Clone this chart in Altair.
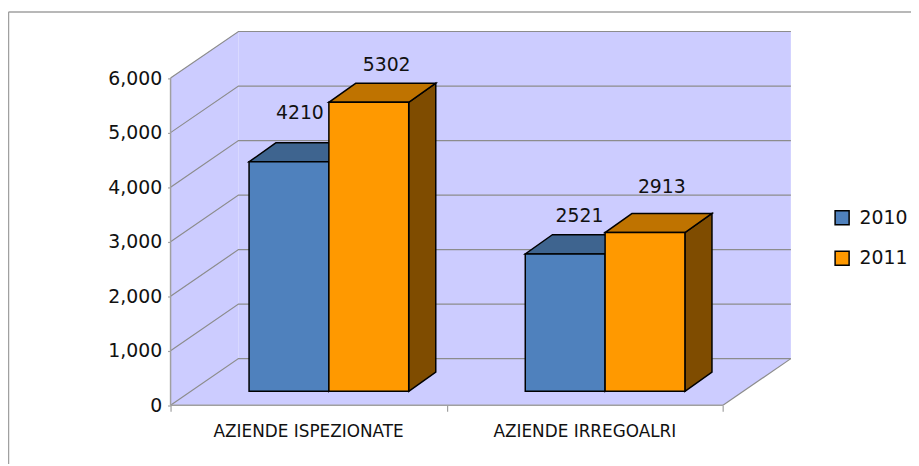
import altair as alt
import pandas as pd

categories = ["AZIENDE ISPEZIONATE", "AZIENDE IRREGOALRI"]
series = ["2010", "2011"]
values_2010 = [4210, 2521]
values_2011 = [5302, 2913]
ticks = [0, 1000, 2000, 3000, 4000, 5000, 6000]

# layout: one category = 278.65 px, one value unit = 0.055 px
W, H = 911, 458
PX_CAT, PX_VAL = 278.65, 0.055
X0, Y0 = 172 - 8, 406.7 - 8
xdom = [-X0 / PX_CAT, (W - X0) / PX_CAT]
ydom = [(Y0 - H) / PX_VAL, Y0 / PX_VAL]
WALL_DX, WALL_DY = 68.5 / PX_CAT, 47 / PX_VAL
BAR_DX, BAR_DY = 27.3 / PX_CAT, 19.3 / PX_VAL
FLOOR_DX, FLOOR_DY = 20.4 / PX_CAT, 14 / PX_VAL
BAR_W = 0.289
LABEL_NUDGE = {(0, 0): (11, -30), (0, 1): (18, -18), (1, 0): (14.5, -19), (1, 1): (17, -26.5)}
FONT = "DejaVu Sans"
FS = 19

xs = alt.Scale(domain=xdom, nice=False, zero=False)
ys = alt.Scale(domain=ydom, nice=False, zero=False)
X = lambda f, **k: alt.X(f, type="quantitative", scale=xs, title=None, **k)
Y = lambda f, **k: alt.Y(f, type="quantitative", scale=ys, title=None, **k)

colors = {"2010": "#4F81BD", "2011": "#FF9900"}
tops = {"2010": "#3E648F", "2011": "#BF7300"}
sides = {"2010": "#2F4B6E", "2011": "#7F4C00"}

fronts, side_rows, top_rows, labels = [], [], [], []
for i, cat in enumerate(categories):
    c = i + 0.5 + FLOOR_DX
    for j, (s, v) in enumerate(zip(series, (values_2010[i], values_2011[i]))):
        a, b = c - BAR_W + j * BAR_W, c + j * BAR_W
        fronts.append(dict(s=s, x=a, x2=b, y=FLOOR_DY, y2=FLOOR_DY + v))
        k = f"{i}-{j}"
        side_rows += [
            dict(k=k, fill=sides[s], x=b, y=FLOOR_DY, y2=FLOOR_DY + v),
            dict(k=k, fill=sides[s], x=b + BAR_DX, y=FLOOR_DY + BAR_DY, y2=FLOOR_DY + BAR_DY + v),
        ]
        top_rows += [
            dict(k=k, fill=tops[s], y=FLOOR_DY + v, x=a, x2=b),
            dict(k=k, fill=tops[s], y=FLOOR_DY + v + BAR_DY, x=a + BAR_DX, x2=b + BAR_DX),
        ]
        nx, ny = LABEL_NUDGE[(i, j)]
        labels.append(dict(t=str(v), x=(a + b) / 2 + nx / PX_CAT,
                           y=FLOOR_DY + BAR_DY + v - ny / PX_VAL))

# walls and floor
left_wall = pd.DataFrame([
    dict(x=0, y=0, y2=ticks[-1]),
    dict(x=WALL_DX, y=WALL_DY, y2=WALL_DY + ticks[-1]),
])
back_wall = pd.DataFrame([dict(x=WALL_DX, x2=2 + WALL_DX, y=WALL_DY, y2=WALL_DY + ticks[-1])])
floor = pd.DataFrame([
    dict(y=0, x=0, x2=2),
    dict(y=WALL_DY, x=WALL_DX, x2=2 + WALL_DX),
])
WALL = "#CCCCFF"
GRID = "#8C8C8C"

grid_rows = []
for t in ticks:
    grid_rows += [
        dict(t=t, o=0, x=0, y=t),
        dict(t=t, o=1, x=WALL_DX, y=WALL_DY + t),
        dict(t=t, o=2, x=2 + WALL_DX, y=WALL_DY + t),
    ]
grid = pd.DataFrame(grid_rows)

base = alt.Chart(left_wall)
layers = [
    alt.Chart(left_wall).mark_area(color=WALL).encode(X("x"), Y("y"), y2="y2"),
    alt.Chart(back_wall).mark_rect(color=WALL).encode(X("x"), x2="x2", y=Y("y"), y2="y2"),
    alt.Chart(floor).mark_area(color=WALL, orient="horizontal").encode(X("x"), x2="x2", y=Y("y")),
    # right floor edge
    alt.Chart(pd.DataFrame([dict(x=2, y=0), dict(x=2 + WALL_DX, y=WALL_DY)])).mark_line(
        color=GRID, strokeWidth=1.2).encode(X("x"), Y("y")),
    alt.Chart(grid).mark_line(color=GRID, strokeWidth=1.2).encode(
        X("x"), Y("y"), detail="t:N", order="o:Q"),
    # axes
    alt.Chart(pd.DataFrame([dict(x=0, y=0, y2=ticks[-1])])).mark_rule(color="#A0A0A0", strokeWidth=1.5).encode(
        X("x", axis=alt.Axis(values=[0, 1, 2], labels=False, domain=False, grid=False,
                             tickColor="#A0A0A0", tickSize=6, tickWidth=1.2, offset=-(H - Y0))),
        Y("y", axis=alt.Axis(values=ticks, domain=False, grid=False, tickColor="#A0A0A0",
                             tickSize=3, tickWidth=1.2, labelPadding=6, offset=-X0,
                             labelFont=FONT, labelFontSize=FS, labelColor="#111111")),
        y2="y2"),
    alt.Chart(pd.DataFrame([dict(x=0, x2=2, y=0)])).mark_rule(color="#A0A0A0", strokeWidth=1.5).encode(
        X("x"), x2="x2", y=Y("y")),
    # bars
    alt.Chart(pd.DataFrame(side_rows)).mark_area(stroke="black", strokeWidth=1.5).encode(
        X("x"), Y("y"), y2="y2", detail="k:N", fill=alt.Fill("fill:N", scale=None)),
    alt.Chart(pd.DataFrame(top_rows)).mark_area(orient="horizontal", stroke="black", strokeWidth=1.5).encode(
        X("x"), x2="x2", y=Y("y"), detail="k:N", fill=alt.Fill("fill:N", scale=None)),
    alt.Chart(pd.DataFrame(fronts)).mark_rect(stroke="black", strokeWidth=1.5).encode(
        X("x"), x2="x2", y=Y("y"), y2="y2",
        fill=alt.Fill("s:N", scale=alt.Scale(domain=series, range=[colors[s] for s in series]),
                      legend=alt.Legend(title=None, orient="none", legendX=832, legendY=200,
                                        symbolType="square", symbolSize=200, symbolStrokeColor="black",
                                        symbolStrokeWidth=1.5, labelFont=FONT, labelFontSize=FS,
                                        labelColor="#111111", rowPadding=20, labelOffset=8))),
    alt.Chart(pd.DataFrame(labels)).mark_text(font=FONT, fontSize=FS, color="#111111", baseline="middle").encode(
        X("x"), Y("y"), text="t:N"),
    alt.Chart(pd.DataFrame([dict(t=c, x=i + 0.5 + d) for i, (c, d) in enumerate(zip(categories, (0.0, 0.0)))])).mark_text(
        font=FONT, fontSize=17, color="#111111", baseline="middle").encode(
        X("x"), y=alt.value(425.5), text="t:N"),
    # outer frame
    alt.Chart(pd.DataFrame([dict(a=1)])).mark_rule(color="#A0A0A0", strokeWidth=1.5).encode(
        x=alt.value(0.5), y=alt.value(2), y2=alt.value(H)),
    alt.Chart(pd.DataFrame([dict(a=1)])).mark_rule(color="#A0A0A0", strokeWidth=1.5).encode(
        x=alt.value(0.5), x2=alt.value(W), y=alt.value(2)),
]

chart = alt.layer(*layers).properties(
    width=W, height=H, padding=0, autosize=alt.AutoSizeParams(type="none"), background="white"
).configure_view(stroke=None)

chart.save("out.html", embed_options={"renderer": "svg", "actions": False})
